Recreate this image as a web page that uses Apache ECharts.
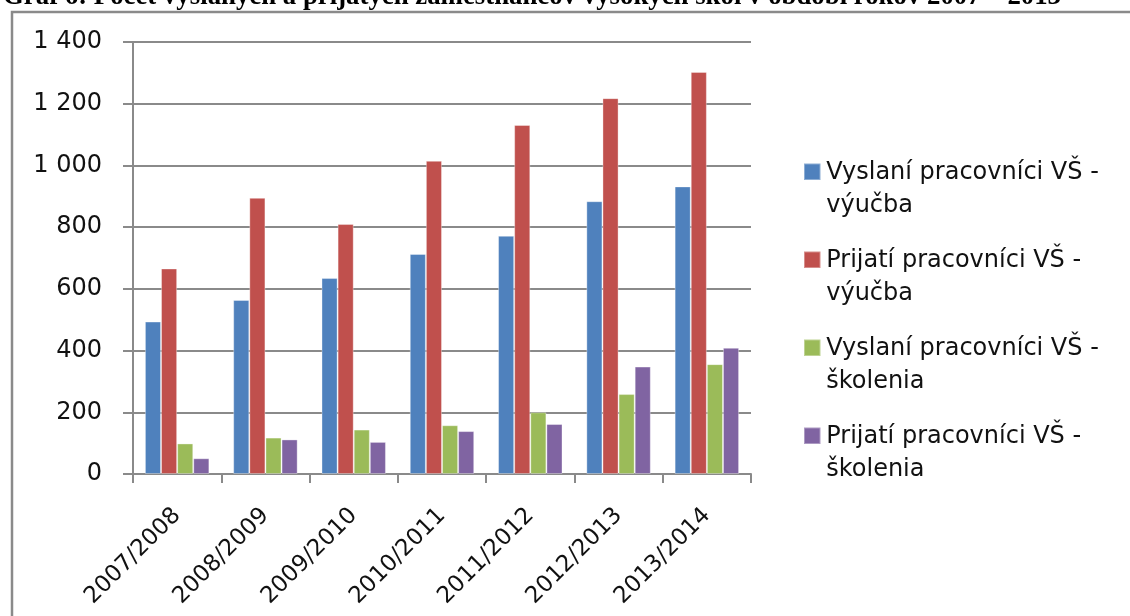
<!DOCTYPE html>
<html>
<head>
<meta charset="utf-8">
<script src="https://cdn.jsdelivr.net/npm/echarts@6/dist/echarts.min.js"></script>
<style>
  html, body { margin: 0; padding: 0; background: #fff; }
  #chart { width: 1130px; height: 616px; }
</style>
</head>
<body>
<div id="chart"></div>
<script>
// roky (akademické)
const years = ['2007/2008', '2008/2009', '2009/2010', '2010/2011', '2011/2012', '2012/2013', '2013/2014'];
const seriesNames = [
  'Vyslaní pracovníci VŠ -\nvýučba',
  'Prijatí pracovníci VŠ -\nvýučba',
  'Vyslaní pracovníci VŠ -\nškolenia',
  'Prijatí pracovníci VŠ -\nškolenia'
];
const vyslaniVyucba = [494, 564, 635, 713, 772, 884, 932];
const prijatiVyucba = [666, 895, 810, 1015, 1131, 1218, 1303];
const vyslaniSkolenia = [99, 118, 144, 158, 200, 259, 356];
const prijatiSkolenia = [51, 112, 104, 139, 162, 348, 409];
const colors = ['#4F81BD', '#C0504D', '#9BBB59', '#8064A2'];

const titleText = 'Graf 6: Počet vyslaných a prijatých zamestnancov vysokých škôl v období rokov 2007 – 2013';

var chart = echarts.init(document.getElementById('chart'));

// square sitting on the first line of a 2-line legend label
const legendIcon = 'path://M0,4.5h10v10h-10Z M0,0h0.01v0.01Z M0,40h0.01v0.01Z';
const font = '"DejaVu Sans", sans-serif';

const allData = [vyslaniVyucba, prijatiVyucba, vyslaniSkolenia, prijatiSkolenia];

var option = {
  animation: false,
  color: colors,
  graphic: [
    {
      type: 'text',
      x: 3,
      y: -3,
      style: {
        text: titleText,
        font: 'bold 26.8px "Liberation Serif", serif',
        fill: '#000',
        verticalAlign: 'middle'
      }
    },
    {
      // frame of the figure (cut off on the right / bottom)
      type: 'rect',
      shape: { x: 12, y: 12, width: 1130, height: 620 },
      style: { fill: 'none', stroke: '#8a8a8a', lineWidth: 2.5 },
      z: -1
    }
  ],
  grid: { left: 133, right: 379, top: 42, bottom: 142 },
  legend: {
    orient: 'vertical',
    left: 798,
    top: 150,
    itemWidth: 18,
    itemHeight: 66,
    itemGap: 20,
    icon: legendIcon,
    selectedMode: false,
    textStyle: {
      fontFamily: font,
      fontSize: 24,
      lineHeight: 33,
      color: '#111'
    },
    data: seriesNames
  },
  xAxis: {
    type: 'category',
    data: years,
    axisLine: { lineStyle: { color: '#8a8a8a', width: 2 } },
    axisTick: { show: true, length: 9, lineStyle: { color: '#8a8a8a', width: 2 } },
    axisLabel: {
      rotate: 45,
      interval: 0,
      margin: 38,
      fontFamily: font,
      fontSize: 23,
      color: '#111'
    }
  },
  yAxis: {
    type: 'value',
    min: 0,
    max: 1400,
    interval: 200,
    axisLine: { show: true, lineStyle: { color: '#8a8a8a', width: 2 } },
    axisTick: { show: true, length: 10, lineStyle: { color: '#8a8a8a', width: 2 } },
    splitLine: { lineStyle: { color: '#8a8a8a', width: 2 } },
    axisLabel: {
      margin: 31,
      fontFamily: font,
      fontSize: 24,
      color: '#111',
      formatter: function (v) {
        return String(v).replace(/\B(?=(\d{3})+(?!\d))/g, ' ');
      }
    }
  },
  series: seriesNames.map(function (name, i) {
    return {
      name: name,
      type: 'bar',
      data: allData[i],
      barGap: '0%',
      barCategoryGap: '27%',
      itemStyle: { borderColor: 'rgba(255,255,255,0.35)', borderWidth: 1 }
    };
  })
};

option && chart.setOption(option);
</script>
</body>
</html>
